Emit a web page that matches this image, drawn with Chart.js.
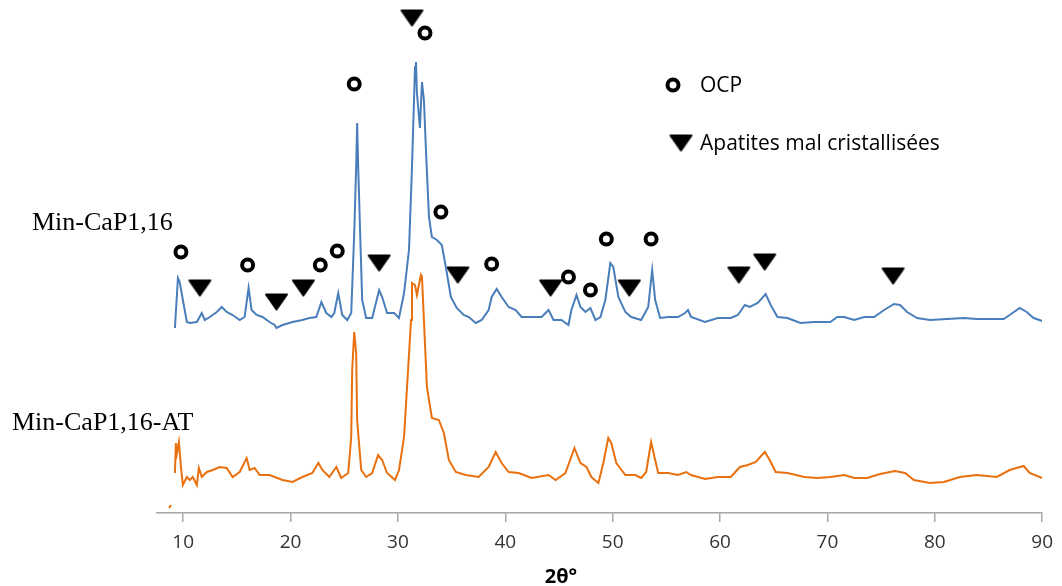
<!DOCTYPE html>
<html>
<head>
<meta charset="utf-8">
<script src="https://cdn.jsdelivr.net/npm/chart.js@4.4.1/dist/chart.umd.min.js"></script>
<style>
  html, body { margin: 0; padding: 0; background: #fff; }
  #wrap { width: 1062px; height: 586px; position: relative; }
</style>
</head>
<body>
<div id="wrap"><canvas id="chart"></canvas></div>
<script>
// 2θ ticks
const xTicks = [10, 20, 30, 40, 50, 60, 70, 80, 90];

// Min-CaP1,16 (upper trace, offset)
const blueAngles = [9.23, 9.51, 9.60, 9.69, 9.97, 10.34, 10.62, 11.27, 11.73, 12.01, 12.48, 13.13, 13.59, 14.05, 14.61, 15.26, 15.72, 16.09, 16.37, 16.84, 17.39, 18.04, 18.51, 18.69, 19.25, 20.18, 21.10, 21.75, 22.40, 22.87, 23.33, 23.80, 24.07, 24.44, 24.81, 25.28, 25.65, 25.93, 26.11, 26.20, 26.30, 26.48, 26.67, 27.04, 27.60, 28.25, 28.53, 28.99, 29.64, 30.10, 30.57, 31.03, 31.31, 31.59, 31.68, 31.77, 32.05, 32.24, 32.42, 32.61, 32.89, 33.16, 33.63, 34.09, 34.46, 34.93, 35.48, 36.13, 36.60, 37.25, 37.80, 38.45, 38.73, 39.20, 39.66, 40.31, 40.96, 41.52, 42.45, 43.38, 44.03, 44.49, 45.23, 45.88, 46.16, 46.63, 47.00, 47.46, 47.93, 48.39, 48.86, 49.32, 49.78, 50.06, 50.53, 51.18, 51.73, 52.66, 53.31, 53.68, 53.96, 54.42, 55.17, 56.09, 56.74, 57.02, 57.30, 58.60, 59.80, 61.01, 61.66, 62.31, 62.77, 63.51, 64.25, 64.72, 65.35, 66.28, 67.49, 68.79, 70.27, 70.92, 71.57, 72.50, 73.43, 74.35, 75.28, 76.21, 76.77, 77.42, 78.35, 79.55, 81.13, 82.71, 83.91, 85.12, 86.42, 86.98, 87.91, 88.56, 89.21, 90.0];
const blueCounts = [185, 235, 233, 230, 213, 191, 190, 191, 200, 193, 196, 201, 206, 201, 198, 193, 196, 225, 203, 198, 196, 191, 188, 185, 188, 191, 193, 195, 196, 211, 200, 196, 200, 220, 198, 193, 200, 280, 346, 390, 346, 280, 213, 195, 195, 223, 216, 200, 200, 195, 220, 263, 346, 446, 451, 420, 385, 431, 413, 363, 296, 276, 273, 268, 246, 216, 205, 198, 196, 190, 193, 203, 216, 224, 216, 206, 203, 196, 196, 196, 203, 193, 193, 188, 203, 218, 206, 201, 205, 193, 196, 213, 250, 246, 216, 201, 196, 193, 206, 243, 213, 195, 196, 196, 200, 203, 196, 191, 195, 195, 198, 208, 206, 210, 219, 208, 196, 195, 190, 191, 191, 196, 196, 193, 196, 196, 203, 209, 208, 201, 195, 193, 194, 195, 194, 194, 194, 198, 205, 201, 195, 192];

// Min-CaP1,16-AT (lower trace)
const orangeAngles = [8.68, 8.86, 9.0, 9.23, 9.32, 9.42, 9.60, 9.79, 9.97, 10.34, 10.62, 10.90, 11.27, 11.46, 11.73, 12.20, 12.76, 13.40, 14.05, 14.61, 15.26, 15.91, 16.19, 16.65, 17.12, 18.04, 19.25, 20.18, 21.10, 22.03, 22.59, 22.96, 23.61, 24.26, 24.72, 25.37, 25.65, 25.74, 25.93, 26.11, 26.20, 26.58, 27.04, 27.60, 28.15, 28.53, 28.99, 29.73, 30.10, 30.57, 30.85, 31.22, 31.31, 31.59, 31.77, 32.14, 32.24, 32.42, 32.70, 33.16, 33.81, 34.28, 34.74, 35.39, 36.32, 37.52, 38.45, 39.10, 39.66, 40.31, 41.24, 42.45, 44.03, 44.68, 45.60, 46.44, 47.00, 47.56, 48.02, 48.67, 49.13, 49.59, 49.87, 50.34, 51.18, 52.10, 52.66, 53.12, 53.58, 53.96, 54.24, 55.17, 56.09, 56.84, 57.30, 58.60, 59.80, 61.01, 61.85, 62.59, 63.33, 64.17, 64.63, 65.18, 66.28, 67.86, 69.06, 70.27, 71.57, 72.50, 73.70, 74.91, 76.30, 77.23, 78.06, 79.55, 80.85, 82.33, 83.91, 85.77, 86.98, 88.28, 88.84, 90.0];
const orangeCounts = [5, 8, null, 40, 70, 60, 71, 46, 28, 36, 33, 36, 28, 45, 36, 41, 43, 46, 45, 36, 41, 55, 43, 45, 38, 38, 33, 31, 36, 40, 50, 43, 36, 46, 35, 40, 76, 143, 181, 160, 93, 43, 36, 40, 58, 53, 40, 33, 43, 76, 126, 193, 230, 228, 218, 238, 236, 193, 126, 95, 93, 80, 53, 41, 38, 36, 46, 61, 50, 41, 40, 35, 38, 33, 40, 65, 50, 46, 36, 30, 50, 75, 70, 50, 38, 38, 35, 41, 71, 53, 40, 40, 38, 41, 38, 34, 36, 36, 46, 48, 51, 61, 53, 41, 40, 36, 35, 36, 38, 35, 35, 39, 42, 40, 33, 30, 31, 36, 38, 36, 43, 47, 40, 35];

// phase markers
const ocpAngles = [9.79, 16.0, 22.77, 24.35, 25.93, 32.52, 34.0, 38.73, 45.88, 47.93, 49.41, 53.58];
const ocpHeights = [261, 248, 248, 262, 429, 480, 301, 249, 236, 223, 274, 274];
const apatiteAngles = [11.55, 18.69, 21.19, 28.25, 31.31, 35.58, 44.22, 51.55, 61.75, 64.16, 76.12];
const apatiteHeights = [225, 211, 225, 250, 495, 238, 225, 225, 238, 251, 237];

const zip = (xs, ys) => xs.map((x, i) => ({ x, y: ys[i] }));

function makeTriangle(w, h) {
  const c = document.createElement("canvas");
  c.width = w + 2;
  c.height = h + 2;
  const g = c.getContext("2d");
  g.fillStyle = "#000";
  g.strokeStyle = "#000";
  g.lineWidth = 2;
  g.lineJoin = "round";
  g.beginPath();
  g.moveTo(2, 2);
  g.lineTo(w, 2);
  g.lineTo(w / 2 + 1, h);
  g.closePath();
  g.fill();
  g.stroke();
  return c;
}
const tri = makeTriangle(23, 17);

const textPlugin = {
  id: "texts",
  afterDraw(chart) {
    const ctx = chart.ctx;
    ctx.save();
    ctx.fillStyle = "#000";
    ctx.textBaseline = "alphabetic";
    ctx.font = "26px 'Liberation Serif'";
    ctx.fillText("Min-CaP1,16", 32, 230);
    ctx.fillText("Min-CaP1,16-AT", 12, 430);

    // legend
    ctx.beginPath();
    ctx.arc(673, 85, 5.5, 0, Math.PI * 2);
    ctx.fillStyle = "#fff";
    ctx.fill();
    ctx.lineWidth = 4;
    ctx.strokeStyle = "#000";
    ctx.stroke();
    ctx.drawImage(tri, 681 - tri.width / 2, 143 - tri.height / 2);
    ctx.fillStyle = "#000";
    ctx.textBaseline = "middle";
    ctx.font = "21px 'Open Sans'";
    ctx.fillText("OCP", 700, 86);
    ctx.fillText("Apatites mal cristallisées", 700, 144);

    ctx.font = "bold 20px 'Open Sans'";
    ctx.textAlign = "center";
    ctx.fillText("2θ°", 561, 577);
    ctx.restore();
  }
};

new Chart(document.getElementById("chart"), {
  type: "scatter",
  data: {
    datasets: [
      {
        label: "Min-CaP1,16",
        data: zip(blueAngles, blueCounts),
        showLine: true,
        borderColor: "#4a7ebb",
        borderWidth: 2,
        pointRadius: 0,
        tension: 0,
      },
      {
        label: "Min-CaP1,16-AT",
        data: zip(orangeAngles, orangeCounts),
        showLine: true,
        spanGaps: false,
        borderColor: "#e8700f",
        borderWidth: 2,
        pointRadius: 0,
        tension: 0,
      },
      {
        label: "OCP",
        data: zip(ocpAngles, ocpHeights),
        pointStyle: "circle",
        pointRadius: 5.5,
        borderWidth: 4,
        borderColor: "#000",
        backgroundColor: "#fff",
        clip: false,
      },
      {
        label: "Apatites mal cristallisées",
        data: zip(apatiteAngles, apatiteHeights),
        pointStyle: tri,
        clip: false,
      },
    ]
  },
  options: {
    responsive: true,
    maintainAspectRatio: false,
    animation: false,
    layout: { autoPadding: false, padding: { left: 157, right: 16, top: 0, bottom: 0 } },
    plugins: {
      legend: { display: false },
      tooltip: { enabled: false },
    },
    events: [],
    scales: {
      x: {
        type: "linear",
        min: 7.56,
        max: 90,
        afterBuildTicks: (scale) => { scale.ticks = xTicks.map(v => ({ value: v })); },
        afterFit: (scale) => { scale.height = 73; },
        grid: {
          drawOnChartArea: false,
          drawTicks: true,
          tickLength: 9,
          color: "#a6a6a6",
          lineWidth: 1.5,
        },
        border: { display: true, color: "#a6a6a6", width: 1.5 },
        ticks: {
          padding: 9,
          color: "#333333",
          font: { family: "'Open Sans'", size: 19 },
          maxRotation: 0,
        },
        title: { display: false },
      },
      y: {
        display: false,
        min: 0,
        max: 513,
      }
    }
  },
  plugins: [textPlugin]
});
</script>
</body>
</html>
